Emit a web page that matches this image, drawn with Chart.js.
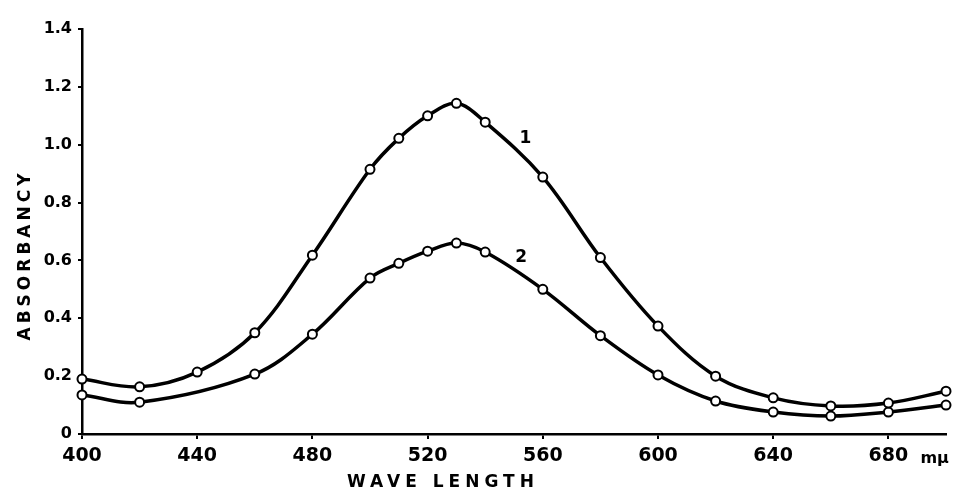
<!DOCTYPE html>
<html>
<head>
<meta charset="utf-8">
<script src="https://cdn.jsdelivr.net/npm/chart.js@4.4.1/dist/chart.umd.min.js"></script>
<style>
  html, body { margin: 0; padding: 0; background: #fff; }
  #wrap { width: 956px; height: 492px; }
</style>
</head>
<body>
<div id="wrap"><canvas id="absorb"></canvas></div>
<script>
// curve 1
const wavelengths1 = [400, 420, 440, 460, 480, 500, 510, 520, 530, 540, 560, 580, 600, 620, 640, 660, 680, 700];
const absorbancy1 = [0.19, 0.163, 0.214, 0.35, 0.618, 0.915, 1.022, 1.10, 1.143, 1.078, 0.888, 0.61, 0.373, 0.20, 0.125, 0.097, 0.107, 0.148];
// curve 2
const wavelengths2 = [400, 420, 460, 480, 500, 510, 520, 530, 540, 560, 580, 600, 620, 640, 660, 680, 700];
const absorbancy2 = [0.135, 0.11, 0.207, 0.345, 0.539, 0.59, 0.632, 0.66, 0.629, 0.50, 0.34, 0.204, 0.114, 0.076, 0.062, 0.076, 0.10];

const curveNames = ['1', '2'];
const xTicks = [400, 440, 480, 520, 560, 600, 640, 680];
const yTicks = [0, 0.2, 0.4, 0.6, 0.8, 1.0, 1.2, 1.4];

const FONT = '"DejaVu Sans", sans-serif';

function toPoints(xs, ys) {
  return xs.map((w, i) => ({ x: w, y: ys[i] }));
}

function curve(xs, ys, name) {
  return {
    label: name,
    data: toPoints(xs, ys),
    borderColor: '#000',
    borderWidth: 3.5,
    pointRadius: 4.5,
    pointBorderWidth: 2,
    pointBackgroundColor: '#fff',
    pointBorderColor: '#000',
    tension: 0.35,
    clip: false
  };
}

// axis titles, curve numbers and the unit after 680
const annotate = {
  id: 'annotate',
  afterDraw(chart) {
    const { ctx, scales: { x, y } } = chart;
    ctx.save();
    ctx.fillStyle = '#000';
    ctx.textBaseline = 'middle';

    ctx.font = 'bold 17px ' + FONT;
    ctx.letterSpacing = '5px';
    ctx.textAlign = 'center';
    ctx.fillText('WAVE LENGTH', 443, 483);

    ctx.save();
    ctx.translate(26, 257);
    ctx.rotate(-Math.PI / 2);
    ctx.letterSpacing = '4px';
    ctx.fillText('ABSORBANCY', 2, 0);
    ctx.restore();

    ctx.letterSpacing = '0px';
    ctx.font = 'bold 17px ' + FONT;
    ctx.fillText(curveNames[0], x.getPixelForValue(554), y.getPixelForValue(1.02));
    ctx.fillText(curveNames[1], x.getPixelForValue(552.5), y.getPixelForValue(0.61));

    ctx.textAlign = 'left';
    ctx.font = 'bold 16px ' + FONT;
    ctx.fillText('mμ', x.getPixelForValue(680) + 32, 459);
    ctx.restore();
  }
};

new Chart(document.getElementById('absorb'), {
  type: 'line',
  data: {
    datasets: [
      curve(wavelengths1, absorbancy1, curveNames[0]),
      curve(wavelengths2, absorbancy2, curveNames[1])
    ]
  },
  options: {
    responsive: true,
    maintainAspectRatio: false,
    animation: false,
    layout: { padding: { top: 29, right: 10, left: 0, bottom: 0 } },
    plugins: { legend: { display: false }, tooltip: { enabled: false } },
    scales: {
      x: {
        type: 'linear',
        min: 400,
        max: 700,
        afterBuildTicks: (s) => { s.ticks = xTicks.map(v => ({ value: v })); },
        afterFit: (s) => { s.height = 58; },
        border: { color: '#000', width: 2.5 },
        grid: { drawOnChartArea: false, color: '#000', tickLength: 5, lineWidth: 2 },
        ticks: {
          color: '#000',
          font: { family: FONT, size: 19, weight: 'bold' },
          padding: 6,
          maxRotation: 0,
          autoSkip: false
        }
      },
      y: {
        min: 0,
        max: 1.4,
        afterBuildTicks: (s) => { s.ticks = yTicks.map(v => ({ value: v })); },
        afterFit: (s) => { s.width = 82; },
        border: { color: '#000', width: 2.5 },
        grid: { drawOnChartArea: false, color: '#000', tickLength: 4, lineWidth: 2 },
        ticks: {
          color: '#000',
          font: { family: FONT, size: 16, weight: 'bold' },
          padding: 6,
          callback: (v) => v === 0 ? '0' : v.toFixed(1)
        }
      }
    }
  },
  plugins: [annotate]
});
</script>
</body>
</html>
